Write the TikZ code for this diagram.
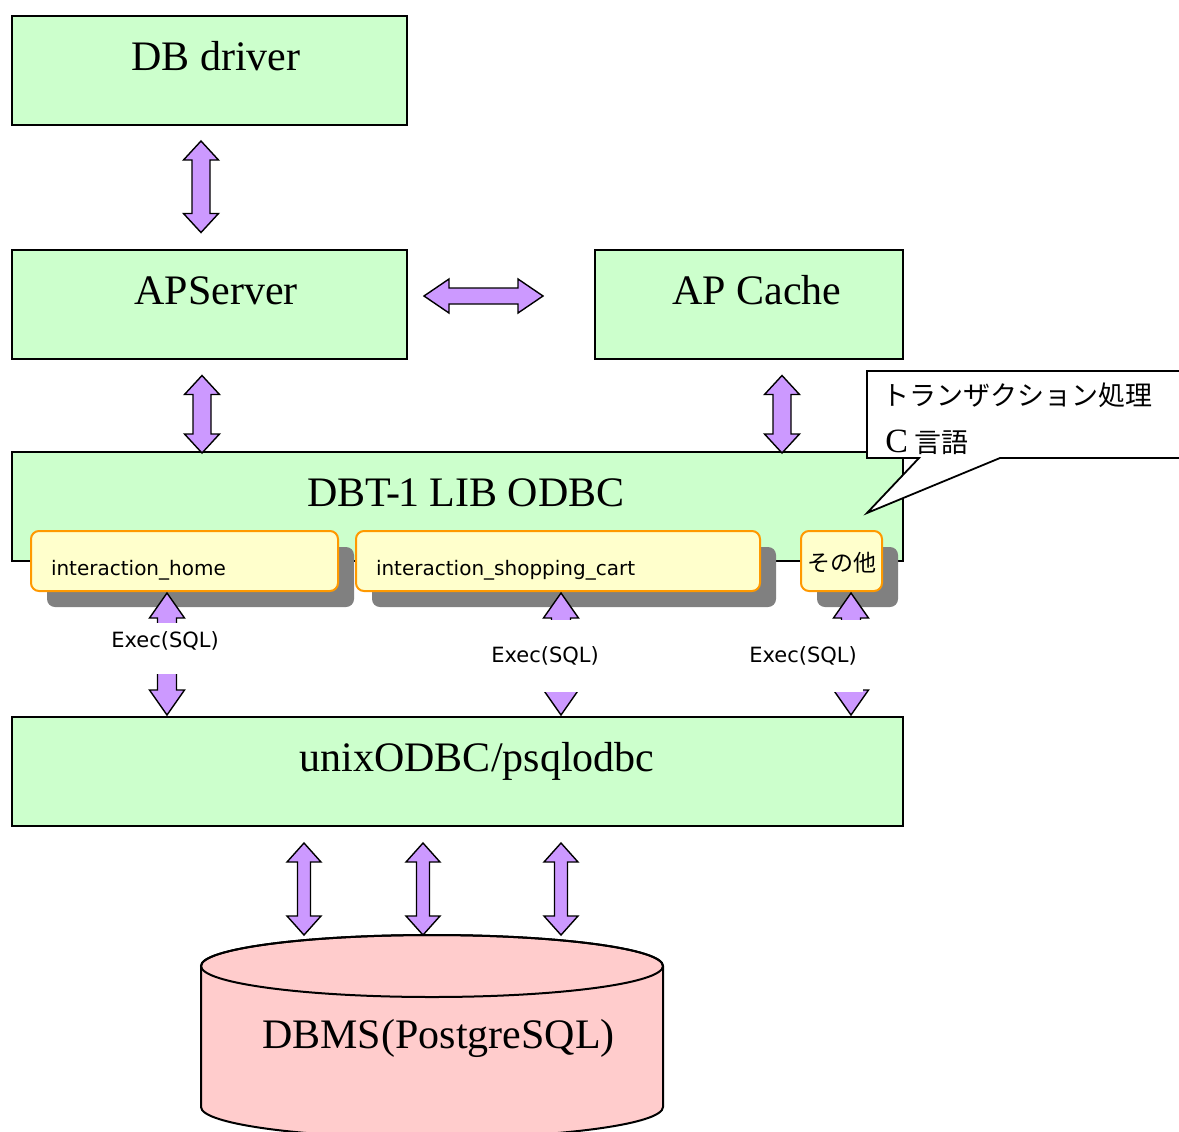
\documentclass[tikz,border=0pt]{standalone}
\usepackage{fontspec}
\setmainfont{Liberation Serif}
\newfontfamily\jpfont{Noto Sans CJK JP}
\newfontfamily\latinsans{DejaVu Sans}
\usetikzlibrary{calc,shadows}

\definecolor{boxgreen}{HTML}{CCFFCC}
\definecolor{arrowpurple}{HTML}{CC99FF}
\definecolor{dbpink}{HTML}{FFCCCC}
\definecolor{funcyellow}{HTML}{FFFFCC}
\definecolor{funcorange}{HTML}{FF9900}
\definecolor{shadowgray}{HTML}{808080}

\begin{document}
\begin{tikzpicture}[%
  x=0.5pt, y=-0.5pt,
  head len/.store in=\fatHL, head wid/.store in=\fatHW, shaft wid/.store in=\fatSW,
  head len=9.5pt, head wid=8.75pt, shaft wid=4.5pt,
  layer/.style={draw, fill=boxgreen, line width=1pt, minimum height=54.5pt, inner sep=0pt},
  title/.style={anchor=base, inner sep=0pt, font=\fontsize{21}{25}\selectfont},
  func/.style={draw=funcorange, fill=funcyellow, line width=1pt, rounded corners=4pt,
    inner xsep=10pt, inner ysep=0pt, align=left, text height=22pt, text depth=8pt,
    font=\latinsans\fontsize{10}{12}\selectfont,
    drop shadow={shadow xshift=8pt, shadow yshift=-8pt, fill=shadowgray, opacity=1}},
  call/.style={fill=white, inner xsep=3pt, inner ysep=0pt, anchor=base,
    font=\latinsans\fontsize{10.5}{12}\selectfont},
  note/.style={anchor=base west, inner sep=0pt, font=\jpfont\fontsize{13.5}{16}\selectfont},
  fatarrow/.style={draw, fill=arrowpurple, line width=0.7pt, to path={
    let \p1=(\tikztostart), \p2=(\tikztotarget), \n1={atan2(\y2-\y1,\x2-\x1)} in
    (\p1) -- ($(\p1)+(\n1:\fatHL)+(\n1+90:\fatHW)$) -- ($(\p1)+(\n1:\fatHL)+(\n1+90:\fatSW)$)
    -- ($(\p2)+(\n1+180:\fatHL)+(\n1+90:\fatSW)$) -- ($(\p2)+(\n1+180:\fatHL)+(\n1+90:\fatHW)$)
    -- (\p2) -- ($(\p2)+(\n1+180:\fatHL)+(\n1-90:\fatHW)$) -- ($(\p2)+(\n1+180:\fatHL)+(\n1-90:\fatSW)$)
    -- ($(\p1)+(\n1:\fatHL)+(\n1-90:\fatSW)$) -- ($(\p1)+(\n1:\fatHL)+(\n1-90:\fatHW)$) -- cycle}}]

  \path[use as bounding box, clip] (0,0) rectangle (1179,1131);

  \node[layer, minimum width=197.5pt] (dbdrv) at (209.5,70.5) {};
  \node[title] (dbdrvtxt) at ([xshift=3.25pt]dbdrv.center) {DB driver};
  \node[layer, minimum width=197.5pt] (apserv) at (209.5,304) {};
  \node[title] (apservtxt) at ([xshift=3.25pt]apserv.center) {APServer};
  \node[layer, minimum width=154pt] (apcache) at (749,304) {};
  \node[title] (apcachetxt) at ([xshift=4pt]apcache.center) {AP Cache};
  \node[layer, minimum width=445.5pt] (dbt) at (457.5,506.5) {};
  \node[title] (dbttxt) at ([xshift=4.25pt]dbt.center) {DBT\kern-0.12em-\kern-0.05em1 LIB ODBC};
  \node[layer, minimum width=445.5pt] (unix) at (457.5,771.5) {};
  \node[title] (unixtxt) at ([xshift=9.75pt]unix.center) {unixODBC/psqlodbc};

  \draw[fatarrow] ([shift={(-8.5,15)}]dbdrv.south) to ([shift={(-8.5,-16)}]apserv.north);
  \draw[fatarrow, head len=12.5pt, head wid=8.5pt, shaft wid=4pt]
    ([shift={(16,-8)}]apserv.east) to ([shift={(-51,-8)}]apcache.west);
  \draw[fatarrow] ([shift={(-7.5,16)}]apserv.south) to ([shift={(-7.5,2)}]apserv.south |- dbt.north);
  \draw[fatarrow] ([shift={(33,16)}]apcache.south) to ([shift={(33,2)}]apcache.south |- dbt.north);

  \node[func, text width=133.5pt] (home) at (184.5,561) {interaction\_home};
  \node[func, text width=182pt] (cart) at (558,561) {interaction\_shopping\_cart};
  \node[func, inner xsep=0pt, text width=40.5pt, align=center, text height=20pt, text depth=10pt,
    font=\jpfont\fontsize{11.5}{13}\selectfont] (other) at (841.5,561) {その他};

  \draw[fatarrow, head len=12.5pt, shaft wid=4.75pt]
    ([shift={(-17.5,1)}]home.south) to ([shift={(-17.5,-1)}]home.south |- unix.north);
  \draw[fatarrow, head len=12.5pt, shaft wid=4.75pt]
    ([shift={(3,1)}]cart.south) to ([shift={(3,-1)}]cart.south |- unix.north);
  \draw[fatarrow, head len=12.5pt, shaft wid=4.75pt]
    ([shift={(9.5,1)}]other.south) to ([shift={(9.5,-1)}]other.south |- unix.north);
  \node[call, text height=12pt, text depth=13.5pt] (exec1) at (165,647) {Exec(SQL)};
  \node[call, text height=21pt, text depth=15pt] (exec2) at (545,662) {Exec(SQL)};
  \node[call, text height=21pt, text depth=15pt] (exec3) at (803,662) {Exec(SQL)};

  \coordinate (dbtop) at (432,935);
  \draw[fill=dbpink, line width=1pt] (201,966) -- (201,1107)
    arc[start angle=180, end angle=360, x radius=115.5pt, y radius=15.5pt] -- (663,966)
    arc[start angle=0, end angle=180, x radius=115.5pt, y radius=15.5pt] -- cycle;
  \draw[line width=1pt] (432,966) ellipse [x radius=115.5pt, y radius=15.5pt];
  \node[title] (dbmstxt) at (438.5,1048) {DBMS(PostgreSQL)};

  \draw[fatarrow, head wid=8.5pt, shaft wid=3.25pt]
    ([shift={(-153.5,16)}]unix.south) to ([shift={(-153.5,0)}]unix.south |- dbtop);
  \draw[fatarrow, head wid=8.5pt, shaft wid=3.25pt]
    ([shift={(-34.5,16)}]unix.south) to ([shift={(-34.5,0)}]unix.south |- dbtop);
  \draw[fatarrow, head wid=8.5pt, shaft wid=3.25pt]
    ([shift={(103.5,16)}]unix.south) to ([shift={(103.5,0)}]unix.south |- dbtop);

  \coordinate (notetip) at (867,513);
  \draw[line width=0.9pt, fill=white] (867,371) -- (1190,371) -- (1190,458) -- (1000,458)
    -- (notetip) -- (919,458) -- (867,458) -- cycle;
  \node[note] (notehead) at (882,405) {トランザクション処理};
  \node[note] (notelang) at (885,452) {{\rmfamily\fontsize{17}{20}\selectfont C} 言語};
\end{tikzpicture}
\end{document}
